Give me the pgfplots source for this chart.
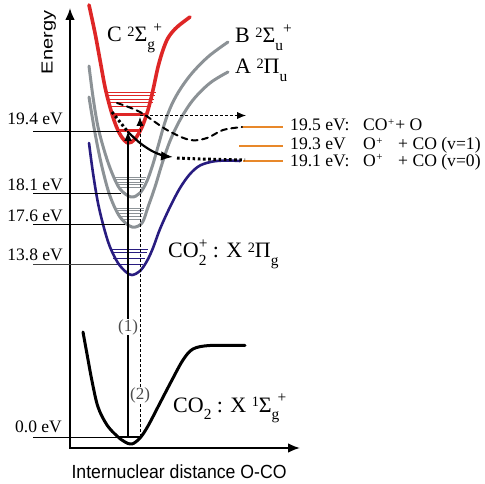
\documentclass[border=0pt]{standalone}
\usepackage{pgfplots}
\pgfplotsset{compat=1.18}
\usepackage{fontspec}
\setmainfont{Liberation Serif}
\setsansfont{Liberation Sans}
\usetikzlibrary{arrows.meta}

\definecolor{stateC}{RGB}{222,38,38}
\definecolor{stateAB}{RGB}{140,146,150}
\definecolor{stateX}{RGB}{40,28,128}
\definecolor{limit}{RGB}{232,136,42}

% term-symbol helpers: left superscript, subscript, superscript
\newcommand{\pre}[1]{\raisebox{0.24em}{\scalebox{0.65}{#1}}}
\newcommand{\dn}[1]{\raisebox{-0.32em}{\scalebox{0.7}{#1}}}
\newcommand{\up}[1]{\raisebox{0.42em}{\scalebox{0.7}{#1}}}
\newcommand{\dnup}[2]{\rlap{\dn{#1}}\up{#2}}
% smaller charge sign for the dissociation-limit labels
\newcommand{\ch}{\raisebox{0.34em}{\scalebox{0.62}{+}}}

\tikzset{
  pot/.style={smooth, tension=0.55, line cap=round, line join=round},
  lvl/.style={line width=0.8pt},
  tip/.style={-{Latex[length=#1,width=0.8*#1]}},
  lab/.style={font=\fontsize{17.5}{20}\selectfont, inner sep=0pt},
  lim/.style={font=\fontsize{17.6}{20}\selectfont, anchor=base west, inner sep=0pt},
  term/.style={font=\fontsize{22}{24}\selectfont, anchor=base west, inner sep=0pt},
}

\begin{document}
\begin{tikzpicture}
\begin{axis}[
  hide axis, scale only axis, width=485pt, height=484pt,
  xmin=0, xmax=485, ymin=0, ymax=484, y dir=reverse, clip=false,
]
% frame of the drawing area
\addplot[draw=none] coordinates {(0,0) (485,484)};

% energy and distance axes
\addplot[line width=1.7pt, tip=12pt] coordinates {(70,448) (70,8)};
\addplot[line width=1.7pt, tip=12pt] coordinates {(69.2,448) (300,448)};

% CO2 ground state X 1Sigma_g+
\addplot[pot, line width=3pt, black] coordinates {
  (83,332) (87,354) (92,381) (98,407) (107,425) (117,436) (125,442) (132,444)
  (140,438) (148,426) (160,403) (172,380) (183,360) (193,349) (210,345.5) (245,345.5)};
% CO2+ X 2Pi_g
\addplot[pot, line width=2.6pt, stateX] coordinates {
  (89,143) (93,173) (98,203) (104,228) (110,247) (118,263) (126,272) (132,275)
  (140,271) (147,261) (153,248) (160,229) (170,207) (180,188) (190,174) (200,165.5)
  (213,161.5) (227,160.5) (240,161)};
% A 2Pi_u
\addplot[pot, line width=3pt, stateAB] coordinates {
  (89,97) (95,133) (102,167) (110,196) (120,217) (132,227) (142,223) (148,207)
  (155,187) (162,164) (170,141) (180,120) (193,100) (210,83) (228,72)};
% B 2Sigma_u+
\addplot[pot, line width=3pt, stateAB] coordinates {
  (89,66) (93,97) (98,127) (105,153) (112,173) (120,189) (131,197) (140,193)
  (147,181) (153,164) (159,143) (165,122) (172,104) (181,88) (193,72) (209,56) (228,42)};
% C 2Sigma_g+
\addplot[pot, line width=3.6pt, stateC] coordinates {
  (89,5) (95,33) (100,60) (105,87) (110,107) (115,123) (121,136) (128,143)
  (135,139) (142,127) (148,110) (153,90) (158,67) (163,50) (168,38) (175,29)
  (182,23) (190,17)};

% vibrational levels of C
\addplot[lvl, stateC] coordinates {(106,92) (156,92)};
\addplot[lvl, stateC] coordinates {(106.5,95.5) (155,95.5)};
\addplot[lvl, stateC] coordinates {(107,99) (154,99)};
\addplot[lvl, stateC] coordinates {(108,102.5) (152.5,102.5)};
\addplot[lvl, stateC] coordinates {(109,106) (151,106)};
\addplot[line width=2.2pt, stateC] coordinates {(111,114.5) (148,114.5)};
\addplot[line width=2.2pt, stateC] coordinates {(118,130.5) (141,130.5)};
% vibrational levels of B
\addplot[lvl, stateAB] coordinates {(114,177) (146,177)};
\addplot[lvl, stateAB] coordinates {(115,179.5) (145,179.5)};
\addplot[lvl, stateAB] coordinates {(116,182) (144,182)};
\addplot[lvl, stateAB] coordinates {(117,184.5) (143,184.5)};
\addplot[lvl, stateAB] coordinates {(118,187) (142,187)};
% vibrational levels of A
\addplot[lvl, stateAB] coordinates {(115,208) (144,208)};
\addplot[lvl, stateAB] coordinates {(116,210.7) (143.5,210.7)};
\addplot[lvl, stateAB] coordinates {(117,213.3) (142.5,213.3)};
\addplot[lvl, stateAB] coordinates {(118,216) (141.5,216)};
\addplot[lvl, stateAB] coordinates {(120,219.3) (140,219.3)};
% vibrational levels of CO2+ X
\addplot[lvl, stateX] coordinates {(110,249) (148,249)};
\addplot[lvl, stateX] coordinates {(111,252.3) (147,252.3)};
\addplot[lvl, stateX] coordinates {(113,258.3) (145,258.3)};
\addplot[lvl, stateX] coordinates {(116,264.3) (143,264.3)};
% ground level of CO2
\addplot[line width=2.6pt, black] coordinates {(117,437) (141,437)};

% energy markers on the left
\addplot[lvl, black] coordinates {(33,131) (119,131)};
\addplot[lvl, black] coordinates {(33,193) (121,193)};
\addplot[lvl, black] coordinates {(33,224) (125,224)};
\addplot[lvl, black!75] coordinates {(33,264.3) (116,264.3)};
\addplot[lvl, black] coordinates {(33,437) (117,437)};
\node[lab, anchor=base east] at (axis cs:63,125) {19.4 eV};
\node[lab, anchor=base east] at (axis cs:63,191) {18.1 eV};
\node[lab, anchor=base east] at (axis cs:63,222) {17.6 eV};
\node[lab, anchor=base east] at (axis cs:63,260) {13.8 eV};
\node[lab, anchor=base east] at (axis cs:62,432) {0.0 eV};

% dissociation limits
\addplot[line width=2.4pt, limit] coordinates {(242,127) (283,127)};
\addplot[line width=2.4pt, limit] coordinates {(239,146) (283,146)};
\addplot[line width=2.4pt, limit] coordinates {(243,161) (283,161)};
\node[lim] at (axis cs:290,131) {19.5 eV:};
\node[lim] at (axis cs:363,131) {CO\kern0.03em\ch\kern1pt+ O};
\node[lim] at (axis cs:290,150) {19.3 eV};
\node[lim] at (axis cs:363,150) {O\kern0.03em\ch};
\node[lim] at (axis cs:398,150) {+ CO (v=1)};
\node[lim] at (axis cs:290,166.5) {19.1 eV:};
\node[lim] at (axis cs:363,166.5) {O\kern0.03em\ch};
\node[lim] at (axis cs:398,166.5) {+ CO (v=0)};

% ionisation paths (1) and (2)
\addplot[line width=0.8pt, dash pattern=on 3pt off 2pt, tip=9pt] coordinates {(140,437) (140,117)};
\addplot[line width=0.8pt, dash pattern=on 3pt off 2pt, tip=9pt] coordinates {(140,115.5) (246,115.5)};
\addplot[line width=2pt, tip=10pt] coordinates {(128,437) (128,131)};
\node[font=\fontsize{17}{18}\selectfont, text=black!70, fill=white, inner sep=0.5pt] at (axis cs:128,327) {(1)};
\node[font=\fontsize{17}{18}\selectfont, text=black!70, fill=white, inner sep=0.5pt] at (axis cs:140,395) {(2)};

% fragmentation pathways
\addplot[pot, line width=2pt, dash pattern=on 6pt off 4.5pt] coordinates {
  (117,103) (140,112) (167,130) (190,140) (207,138) (223,130) (242,127)};
\addplot[line width=3pt, dash pattern=on 2.6pt off 2.6pt] coordinates {(112,112) (120,122) (128,132)};
\addplot[pot, line width=2.2pt, tip=12pt] coordinates {(128,132) (140,143) (152,151) (163,155.5) (173,157)};
\addplot[line width=3pt, dash pattern=on 2.6pt off 2.6pt] coordinates {(177,158) (200,159) (245,160)};

% state labels
\node[term] at (axis cs:107,42) {C \pre{2}Σ\dn{g}\kern-0.08em\up{+}};
\node[term] at (axis cs:235,43) {B \pre{2}Σ\dn{u}\up{+}};
\node[term] at (axis cs:235,74) {A \pre{2}Π\dn{u}};
\node[term] at (axis cs:168,258) {CO\dnup{2}{+} : X \pre{2}Π\dn{g}};
\node[term] at (axis cs:173,412) {CO\dn{2} : X \pre{1}Σ\dn{g}\kern-0.08em\up{+}};

% axis titles
\node[font=\sffamily\fontsize{20}{22}\selectfont, rotate=90, anchor=base] at (axis cs:52.5,42.5) {\scalebox{1}[0.8]{Energy}};
\node[font=\sffamily\fontsize{19}{22}\selectfont, anchor=base west] at (axis cs:68,478) {\scalebox{0.93}[1]{Internuclear distance O-CO}};
\end{axis}
\end{tikzpicture}
\end{document}
